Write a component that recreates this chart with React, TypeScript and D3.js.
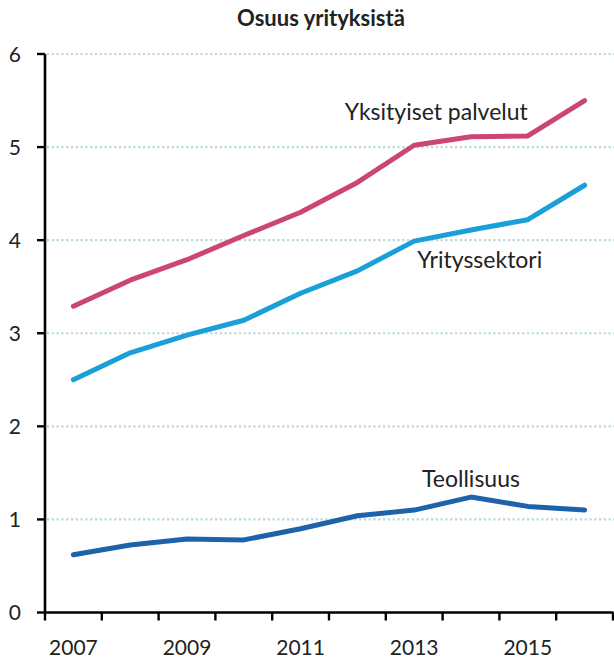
import React, { useEffect, useRef } from "react";
import * as d3 from "d3";

const years = [2007, 2008, 2009, 2010, 2011, 2012, 2013, 2014, 2015, 2016];
const yksityisetPalvelut = [3.29, 3.57, 3.79, 4.05, 4.30, 4.62, 5.02, 5.11, 5.12, 5.50];
const yrityssektori = [2.50, 2.79, 2.98, 3.14, 3.43, 3.67, 3.99, 4.11, 4.22, 4.59];
const teollisuus = [0.62, 0.725, 0.79, 0.78, 0.90, 1.04, 1.10, 1.24, 1.14, 1.10];
const yTicks = [0, 1, 2, 3, 4, 5, 6];
const xLabels = [2007, 2009, 2011, 2013, 2015];

const W = 614, H = 659;
const FONT = "Lato, 'Open Sans', sans-serif";

export default function App() {
  const ref = useRef<SVGSVGElement>(null);

  useEffect(() => {
    const svg = d3.select(ref.current);
    svg.selectAll("*").remove();

    const x = d3.scaleBand<number>().domain(years).range([45, 613]).paddingInner(0).paddingOuter(0);
    const y = d3.scaleLinear().domain([0, 6]).range([612.5, 54]);
    const cx = (yr: number) => (x(yr) as number) + x.bandwidth() / 2;

    // title
    svg.append("text")
      .attr("x", 321).attr("y", 26)
      .attr("text-anchor", "middle")
      .attr("font-family", FONT).attr("font-weight", "bold").attr("font-size", 22)
      .attr("fill", "#222")
      .text("Osuus yrityksistä");

    // dotted gridlines
    svg.append("g").selectAll("line")
      .data(yTicks.filter(t => t > 0))
      .join("line")
      .attr("x1", 47).attr("x2", W)
      .attr("y1", d => y(d)).attr("y2", d => y(d))
      .attr("stroke", "#b7d6e2").attr("stroke-width", 2.2)
      .attr("stroke-dasharray", "2.2,2.6");

    // y axis
    const yAxis = svg.append("g");
    yAxis.append("line")
      .attr("x1", 45).attr("x2", 45).attr("y1", y(6)).attr("y2", y(0))
      .attr("stroke", "#000").attr("stroke-width", 2.6);
    yAxis.selectAll(".tick")
      .data(yTicks)
      .join("line")
      .attr("x1", 37).attr("x2", 45)
      .attr("y1", d => y(d)).attr("y2", d => y(d))
      .attr("stroke", "#000").attr("stroke-width", 2.4);
    yAxis.selectAll("text")
      .data(yTicks)
      .join("text")
      .attr("x", 21).attr("y", d => y(d) + 7.5)
      .attr("text-anchor", "end")
      .attr("font-family", FONT).attr("font-size", 21)
      .attr("fill", "#222")
      .text(d => d);

    // x axis
    const xAxis = svg.append("g");
    const bounds = [...years.map(yr => x(yr) as number), (x(years[years.length - 1]) as number) + x.bandwidth()];
    xAxis.append("line")
      .attr("x1", 44).attr("x2", 613.5).attr("y1", y(0)).attr("y2", y(0))
      .attr("stroke", "#000").attr("stroke-width", 2.6);
    xAxis.selectAll(".tick")
      .data(bounds)
      .join("line")
      .attr("x1", d => d).attr("x2", d => d)
      .attr("y1", y(0)).attr("y2", y(0) + 8)
      .attr("stroke", "#000").attr("stroke-width", 2.4);
    xAxis.selectAll("text")
      .data(xLabels)
      .join("text")
      .attr("x", d => cx(d)).attr("y", 655)
      .attr("text-anchor", "middle")
      .attr("font-family", FONT).attr("font-size", 21)
      .attr("fill", "#222")
      .text(d => d);

    // lines
    const series = [
      { name: "Yksityiset palvelut", values: yksityisetPalvelut, color: "#cc4674" },
      { name: "Yrityssektori", values: yrityssektori, color: "#1a9fd8" },
      { name: "Teollisuus", values: teollisuus, color: "#1e63aa" },
    ];
    const lineGen = d3.line<number>().x((_, i) => cx(years[i])).y(d => y(d));
    svg.append("g").selectAll("path")
      .data(series)
      .join("path")
      .attr("d", d => lineGen(d.values))
      .attr("fill", "none")
      .attr("stroke", d => d.color)
      .attr("stroke-width", 5)
      .attr("stroke-linecap", "round")
      .attr("stroke-linejoin", "round");

    // labels on the lines
    const labels = [
      { text: "Yksityiset palvelut", year: 2015, value: 5.29, anchor: "end", dx: 0 },
      { text: "Yrityssektori", year: 2013, value: 3.70, anchor: "start", dx: 3 },
      { text: "Teollisuus", year: 2014, value: 1.35, anchor: "middle", dx: 0 },
    ];
    svg.append("g").selectAll("text")
      .data(labels)
      .join("text")
      .attr("x", d => cx(d.year) + d.dx)
      .attr("y", d => y(d.value))
      .attr("text-anchor", d => d.anchor)
      .attr("font-family", FONT).attr("font-size", 23)
      .attr("fill", "#222")
      .text(d => d.text);
  }, []);

  return (
    <svg ref={ref} width={W} height={H}
      style={{ position: "absolute", left: 0, top: 0, background: "#fff" }} />
  );
}
